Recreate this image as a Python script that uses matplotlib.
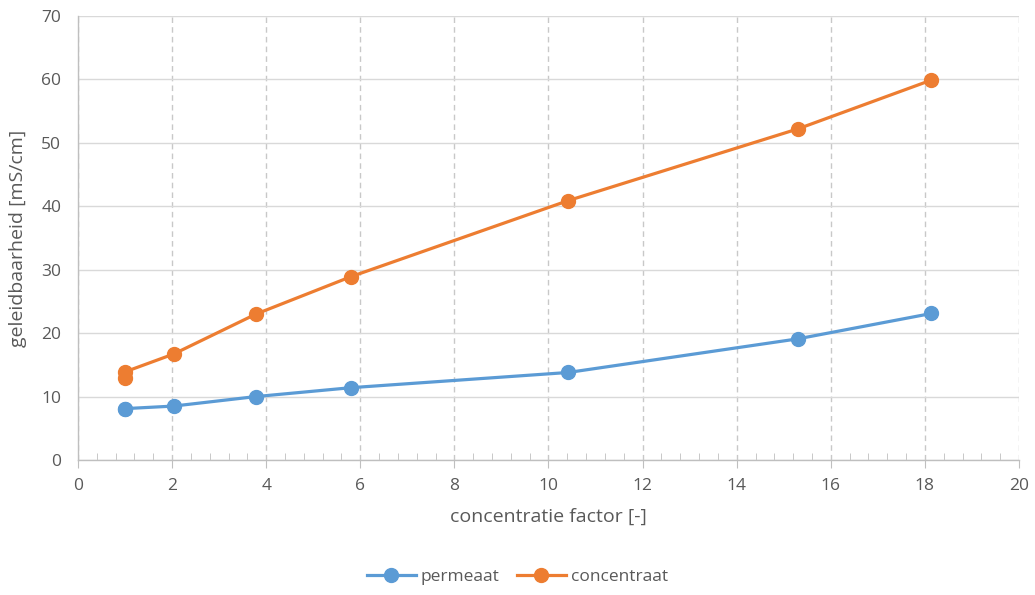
import matplotlib

matplotlib.use("Agg")
import matplotlib.pyplot as plt
from matplotlib.ticker import MultipleLocator

# data
factor = [1.0, 1.0, 2.03, 3.78, 5.80, 10.42, 15.30, 18.14]
permeaat = [8.1, 8.1, 8.5, 10.0, 11.4, 13.8, 19.1, 23.1]
concentraat = [13.0, 13.9, 16.7, 23.0, 28.9, 40.9, 52.2, 59.9]

BLUE = "#5B9BD5"
ORANGE = "#ED7D31"
TXT = "#595959"
GRID = "#D9D9D9"

plt.rcParams["font.family"] = ["Open Sans", "DejaVu Sans"]

fig = plt.figure(figsize=(10.35, 5.95), dpi=100)
ax = fig.add_axes([0.0754, 0.2269, 0.9091, 0.7462])

ax.plot(factor, permeaat, color=BLUE, lw=2.3, marker="o", ms=10, label="permeaat", zorder=3)
ax.plot(factor, concentraat, color=ORANGE, lw=2.3, marker="o", ms=10, label="concentraat", zorder=3)

ax.set_xlim(0, 20)
ax.set_ylim(0, 70)
ax.xaxis.set_major_locator(MultipleLocator(2))
ax.xaxis.set_minor_locator(MultipleLocator(0.4))
ax.yaxis.set_major_locator(MultipleLocator(10))

ax.grid(axis="y", color=GRID, lw=1.0, zorder=0)
ax.grid(axis="x", which="major", color="#C8C8C8", lw=1.0, ls=(0, (4, 3)), zorder=0)
ax.set_axisbelow(True)

for s in ["top", "right"]:
    ax.spines[s].set_visible(False)
for s in ["left", "bottom"]:
    ax.spines[s].set_color("#BFBFBF")
    ax.spines[s].set_linewidth(1.0)

ax.tick_params(axis="x", which="major", direction="out", length=6, color="#BFBFBF",
               labelsize=12.5, labelcolor=TXT, pad=7)
ax.tick_params(axis="x", which="minor", direction="in", length=5, color="#BFBFBF")
ax.tick_params(axis="y", length=0, labelsize=12.5, labelcolor=TXT, pad=12)

ax.set_xlabel("concentratie factor [-]", fontsize=14, color=TXT, labelpad=10)
ax.set_ylabel("geleidbaarheid [mS/cm]", fontsize=14, color=TXT, labelpad=10)

fig.legend(loc="lower center", bbox_to_anchor=(0.5, -0.01), ncol=2, frameon=False,
           fontsize=12.5, labelcolor=TXT, handlelength=2.8, columnspacing=1.0,
           handletextpad=0.3)

fig.savefig("out.png", dpi=100, facecolor="white")
